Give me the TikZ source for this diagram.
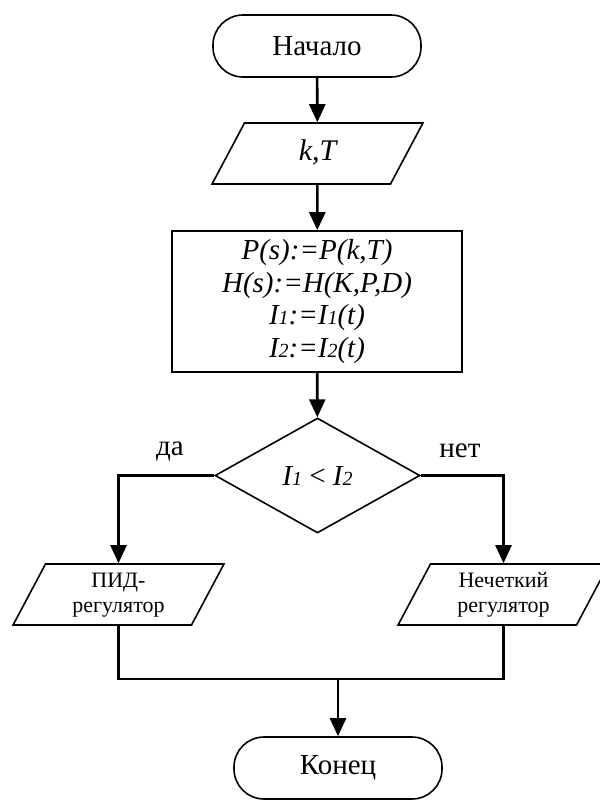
\documentclass[tikz,border=0pt]{standalone}
\usepackage{fontspec}
\setmainfont{LiberationSerif}[Extension=.ttf, UprightFont=*-Regular, ItalicFont=*-Italic,
  BoldFont=*-Bold, BoldItalicFont=*-BoldItalic]
\usetikzlibrary{arrows.meta, shapes.geometric}

\newcommand{\lowdig}[1]{{\fontsize{10}{10}\selectfont #1}}

\begin{document}
\begin{tikzpicture}[x=0.5pt, y=-0.5pt, line width=0.8pt,
    terminal/.style={draw, rounded corners=15pt, minimum width=104pt, minimum height=31pt,
      font=\fontsize{14.5}{16.5}\selectfont},
    io/.style={draw, trapezium, trapezium left angle=62, trapezium right angle=118,
      text width=73pt, inner xsep=0pt, align=center},
    oneline/.style={text height=10pt, text depth=3pt, inner ysep=8.75pt},
    twoline/.style={text height=8pt, text depth=15pt, inner ysep=3.75pt},
    process/.style={draw, minimum width=145pt, minimum height=70.5pt, inner sep=2pt,
      align=center, font=\fontsize{14.5}{16.3}\selectfont\itshape},
    decision/.style={draw, diamond, minimum width=102.5pt, minimum height=57.5pt, inner sep=0pt,
      font=\fontsize{14.5}{16.5}\selectfont},
    flow/.style={line width=1.3pt, -{Triangle[width=8pt, length=9pt]}},
    wire/.style={line width=1.3pt}]
  \useasboundingbox (0, 0) rectangle (600, 809);

  % Blocks
  \node [terminal] (start) at (317, 46) {Начало};
  \node [io, oneline, font=\fontsize{15}{17}\selectfont\itshape] (input) at (317.5, 153.5) {k,T};
  \node [process] (calc) at (317, 301.5)
    {P(s):=P(k,T)\\ H(s):=H(K,P,D)\\ I\lowdig{1}:=I\lowdig{1}(t)\\ I\lowdig{2}:=I\lowdig{2}(t)};
  \node [decision] (cond) at (317.5, 475.5)
    {\itshape I\lowdig{1} \upshape< \itshape I\lowdig{2}};
  \node [io, twoline, font=\fontsize{11}{12.5}\selectfont] (pid) at (118.5, 594.5) {ПИД-\\регулятор};
  \node [io, twoline, font=\fontsize{11}{12.5}\selectfont] (fuzzy) at (503.5, 594.5) {Нечеткий\\регулятор};
  \node [terminal] (stop) at (338, 768) {Конец};

  % Branch labels
  \node [font=\fontsize{14.5}{16.5}\selectfont] (yes) at (170, 451) {да};
  \node [font=\fontsize{14.5}{16.5}\selectfont] (no) at (460, 451) {нет};

  % Connections
  \draw [flow] (start) -- (input);
  \draw [flow] (input) -- (calc);
  \draw [flow] (calc) -- (cond);
  \draw [flow] (cond.west) -| (pid.north);
  \draw [flow] (cond.east) -| (fuzzy.north);

  \coordinate (join) at (338, 679);
  \draw [wire] (pid.south) |- (join) -| (fuzzy.south);
  \draw [flow] (join) -- (stop);

\end{tikzpicture}
\end{document}
